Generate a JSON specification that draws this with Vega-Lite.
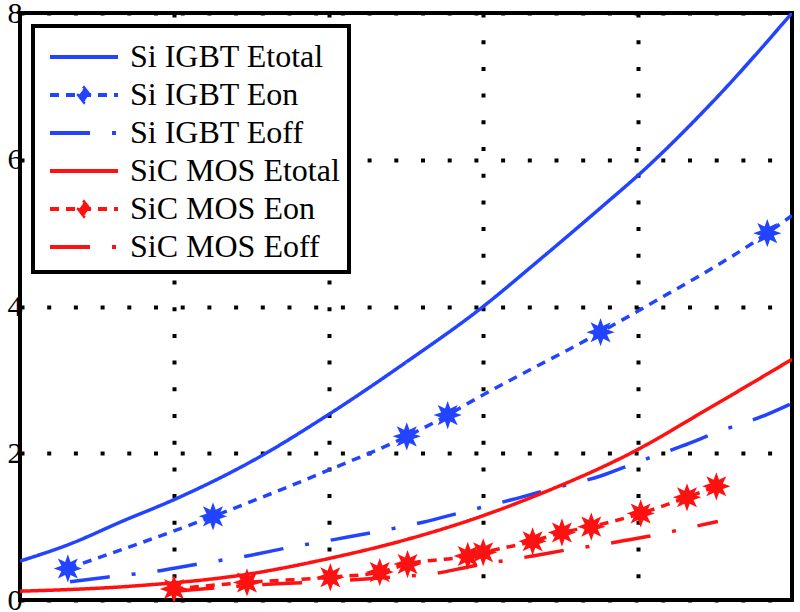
{
  "$schema": "https://vega.github.io/schema/vega-lite/v6.json",
  "width": 772,
  "height": 587,
  "autosize": {"type": "none"},
  "padding": {"left": 20, "top": 13, "right": 8, "bottom": 12},
  "background": "white",
  "config": {
    "font": "Liberation Serif",
    "view": {"stroke": "black", "strokeWidth": 4},
    "axis": {
      "grid": true,
      "gridColor": "black",
      "gridDash": [4, 22.7],
      "gridWidth": 4,
      "gridOpacity": 1,
      "domain": false,
      "ticks": false,
      "title": null
    }
  },
  "datasets": {
    "lines": [
      {"series": "Si IGBT Etotal", "x": 0, "y": 0.53},
      {"series": "Si IGBT Etotal", "x": 3.2, "y": 0.76},
      {"series": "Si IGBT Etotal", "x": 6.7, "y": 1.08},
      {"series": "Si IGBT Etotal", "x": 10, "y": 1.37},
      {"series": "Si IGBT Etotal", "x": 15, "y": 1.89},
      {"series": "Si IGBT Etotal", "x": 20, "y": 2.53},
      {"series": "Si IGBT Etotal", "x": 25, "y": 3.24},
      {"series": "Si IGBT Etotal", "x": 30, "y": 4.0},
      {"series": "Si IGBT Etotal", "x": 33.5, "y": 4.61},
      {"series": "Si IGBT Etotal", "x": 37.8, "y": 5.38},
      {"series": "Si IGBT Etotal", "x": 40.2, "y": 5.82},
      {"series": "Si IGBT Etotal", "x": 45, "y": 6.82},
      {"series": "Si IGBT Etotal", "x": 50, "y": 8.0},

      {"series": "Si IGBT Eon", "x": 3.1, "y": 0.43},
      {"series": "Si IGBT Eon", "x": 12.5, "y": 1.14},
      {"series": "Si IGBT Eon", "x": 20.1, "y": 1.78},
      {"series": "Si IGBT Eon", "x": 25.05, "y": 2.23},
      {"series": "Si IGBT Eon", "x": 27.7, "y": 2.52},
      {"series": "Si IGBT Eon", "x": 29.1, "y": 2.69},
      {"series": "Si IGBT Eon", "x": 37.6, "y": 3.65},
      {"series": "Si IGBT Eon", "x": 40.2, "y": 3.96},
      {"series": "Si IGBT Eon", "x": 48.4, "y": 5.0},
      {"series": "Si IGBT Eon", "x": 50, "y": 5.24},

      {"series": "Si IGBT Eoff", "x": 3.24, "y": 0.25},
      {"series": "Si IGBT Eoff", "x": 5.6, "y": 0.31},
      {"series": "Si IGBT Eoff", "x": 9.07, "y": 0.4},
      {"series": "Si IGBT Eoff", "x": 11.5, "y": 0.49},
      {"series": "Si IGBT Eoff", "x": 14.7, "y": 0.6},
      {"series": "Si IGBT Eoff", "x": 17.3, "y": 0.71},
      {"series": "Si IGBT Eoff", "x": 20.5, "y": 0.83},
      {"series": "Si IGBT Eoff", "x": 23.1, "y": 0.93},
      {"series": "Si IGBT Eoff", "x": 26.1, "y": 1.06},
      {"series": "Si IGBT Eoff", "x": 28.7, "y": 1.2},
      {"series": "Si IGBT Eoff", "x": 31.9, "y": 1.37},
      {"series": "Si IGBT Eoff", "x": 34.3, "y": 1.51},
      {"series": "Si IGBT Eoff", "x": 37.6, "y": 1.69},
      {"series": "Si IGBT Eoff", "x": 40, "y": 1.88},
      {"series": "Si IGBT Eoff", "x": 42.9, "y": 2.1},
      {"series": "Si IGBT Eoff", "x": 45.2, "y": 2.29},
      {"series": "Si IGBT Eoff", "x": 48.4, "y": 2.53},
      {"series": "Si IGBT Eoff", "x": 50, "y": 2.68},

      {"series": "SiC MOS Etotal", "x": 0, "y": 0.12},
      {"series": "SiC MOS Etotal", "x": 7.3, "y": 0.19},
      {"series": "SiC MOS Etotal", "x": 15, "y": 0.36},
      {"series": "SiC MOS Etotal", "x": 20.1, "y": 0.57},
      {"series": "SiC MOS Etotal", "x": 24.8, "y": 0.81},
      {"series": "SiC MOS Etotal", "x": 30, "y": 1.15},
      {"series": "SiC MOS Etotal", "x": 33.5, "y": 1.43},
      {"series": "SiC MOS Etotal", "x": 40, "y": 2.05},
      {"series": "SiC MOS Etotal", "x": 44.2, "y": 2.56},
      {"series": "SiC MOS Etotal", "x": 50, "y": 3.28},

      {"series": "SiC MOS Eon", "x": 9.97, "y": 0.15},
      {"series": "SiC MOS Eon", "x": 14.7, "y": 0.24},
      {"series": "SiC MOS Eon", "x": 20.1, "y": 0.31},
      {"series": "SiC MOS Eon", "x": 23.3, "y": 0.38},
      {"series": "SiC MOS Eon", "x": 25.1, "y": 0.49},
      {"series": "SiC MOS Eon", "x": 29.0, "y": 0.6},
      {"series": "SiC MOS Eon", "x": 30.0, "y": 0.65},
      {"series": "SiC MOS Eon", "x": 33.2, "y": 0.8},
      {"series": "SiC MOS Eon", "x": 35.1, "y": 0.92},
      {"series": "SiC MOS Eon", "x": 37.0, "y": 1.0},
      {"series": "SiC MOS Eon", "x": 40.2, "y": 1.18},
      {"series": "SiC MOS Eon", "x": 43.2, "y": 1.4},
      {"series": "SiC MOS Eon", "x": 45.1, "y": 1.55},

      {"series": "SiC MOS Eoff", "x": 10, "y": 0.12},
      {"series": "SiC MOS Eoff", "x": 14.9, "y": 0.2},
      {"series": "SiC MOS Eoff", "x": 18.6, "y": 0.24},
      {"series": "SiC MOS Eoff", "x": 23.3, "y": 0.3},
      {"series": "SiC MOS Eoff", "x": 27.4, "y": 0.38},
      {"series": "SiC MOS Eoff", "x": 29, "y": 0.45},
      {"series": "SiC MOS Eoff", "x": 33.2, "y": 0.6},
      {"series": "SiC MOS Eoff", "x": 35.6, "y": 0.69},
      {"series": "SiC MOS Eoff", "x": 37.2, "y": 0.74},
      {"series": "SiC MOS Eoff", "x": 38.9, "y": 0.8},
      {"series": "SiC MOS Eoff", "x": 41.5, "y": 0.9},
      {"series": "SiC MOS Eoff", "x": 43, "y": 0.97},
      {"series": "SiC MOS Eoff", "x": 45.2, "y": 1.07}
    ],
    "markers": [
      {"series": "Si IGBT Eon", "x": 3.1, "y": 0.43},
      {"series": "Si IGBT Eon", "x": 12.5, "y": 1.14},
      {"series": "Si IGBT Eon", "x": 25.05, "y": 2.23},
      {"series": "Si IGBT Eon", "x": 27.7, "y": 2.52},
      {"series": "Si IGBT Eon", "x": 37.6, "y": 3.65},
      {"series": "Si IGBT Eon", "x": 48.4, "y": 5.0},
      {"series": "SiC MOS Eon", "x": 9.97, "y": 0.15},
      {"series": "SiC MOS Eon", "x": 14.7, "y": 0.24},
      {"series": "SiC MOS Eon", "x": 20.1, "y": 0.31},
      {"series": "SiC MOS Eon", "x": 23.3, "y": 0.38},
      {"series": "SiC MOS Eon", "x": 25.1, "y": 0.49},
      {"series": "SiC MOS Eon", "x": 29.0, "y": 0.6},
      {"series": "SiC MOS Eon", "x": 30.0, "y": 0.65},
      {"series": "SiC MOS Eon", "x": 33.2, "y": 0.8},
      {"series": "SiC MOS Eon", "x": 35.1, "y": 0.92},
      {"series": "SiC MOS Eon", "x": 37.0, "y": 1.0},
      {"series": "SiC MOS Eon", "x": 40.2, "y": 1.18},
      {"series": "SiC MOS Eon", "x": 43.2, "y": 1.4},
      {"series": "SiC MOS Eon", "x": 45.1, "y": 1.55}
    ]
  },
  "layer": [
    {
      "data": {"name": "lines"},
      "mark": {"type": "line", "strokeWidth": 3.5, "clip": true, "interpolate": "monotone"},
      "encoding": {
        "x": {
          "field": "x", "type": "quantitative",
          "scale": {"domain": [0, 50], "nice": false, "zero": false},
          "axis": {"values": [10, 20, 30, 40], "labels": false}
        },
        "y": {
          "field": "y", "type": "quantitative",
          "scale": {"domain": [0, 8], "nice": false},
          "axis": {
            "values": [0, 2, 4, 6, 8],
            "format": "d",
            "labelFontSize": 30,
            "labelColor": "black",
            "labelPadding": -2,
            "labelFlush": false,
            "labelFont": "Liberation Serif"
          }
        },
        "color": {
          "field": "series", "type": "nominal",
          "scale": {
            "domain": ["Si IGBT Etotal", "Si IGBT Eon", "Si IGBT Eoff", "SiC MOS Etotal", "SiC MOS Eon", "SiC MOS Eoff"],
            "range": ["#2244ff", "#2244ff", "#2244ff", "#ff1111", "#ff1111", "#ff1111"]
          },
          "legend": {
            "title": null,
            "orient": "top-left",
            "offset": 13,
            "fillColor": "white",
            "strokeColor": "black",
            "padding": 9,
            "labelFont": "Liberation Serif",
            "labelFontSize": 32,
            "labelColor": "black",
            "labelLimit": 400,
            "labelOffset": 24,
            "symbolOffset": 20,
            "symbolType": "stroke",
            "symbolSize": 1600,
            "symbolStrokeWidth": 4,
            "rowPadding": 0,
            "encode": {
              "legend": {"update": {"strokeWidth": {"value": 4}}},
              "symbols": {
                "update": {
                  "shape": {"signal": "indexof(datum.value, 'Eon') >= 0 ? 'M-1.7,0L1.7,0M0,-0.32L0.25,0L0,0.32L-0.25,0Z' : 'M-1.7,0L1.7,0'"},
                  "fill": {"signal": "indexof(datum.value, 'Eon') >= 0 ? (indexof(datum.value, 'Si IGBT') >= 0 ? '#2244ff' : '#ff1111') : 'transparent'"}
                }
              }
            }
          }
        },
        "strokeDash": {
          "field": "series", "type": "nominal",
          "scale": {
            "domain": ["Si IGBT Etotal", "Si IGBT Eon", "Si IGBT Eoff", "SiC MOS Etotal", "SiC MOS Eon", "SiC MOS Eoff"],
            "range": [[1, 0], [9, 7], [40, 22, 4, 22], [1, 0], [9, 7], [40, 22, 4, 22]]
          },
          "legend": {"title": null}
        }
      }
    },
    {
      "data": {"name": "markers"},
      "mark": {
        "type": "point",
        "shape": "M1,0L0.46,0.19L0.71,0.71L0.19,0.46L0,1L-0.19,0.46L-0.71,0.71L-0.46,0.19L-1,0L-0.46,-0.19L-0.71,-0.71L-0.19,-0.46L0,-1L0.19,-0.46L0.71,-0.71L0.46,-0.19Z",
        "filled": true,
        "size": 800,
        "opacity": 1,
        "strokeWidth": 0
      },
      "encoding": {
        "x": {"field": "x", "type": "quantitative"},
        "y": {"field": "y", "type": "quantitative"},
        "fill": {
          "field": "series", "type": "nominal",
          "scale": {"domain": ["Si IGBT Eon", "SiC MOS Eon"], "range": ["#2244ff", "#ff1111"]},
          "legend": null
        }
      }
    }
  ]
}
